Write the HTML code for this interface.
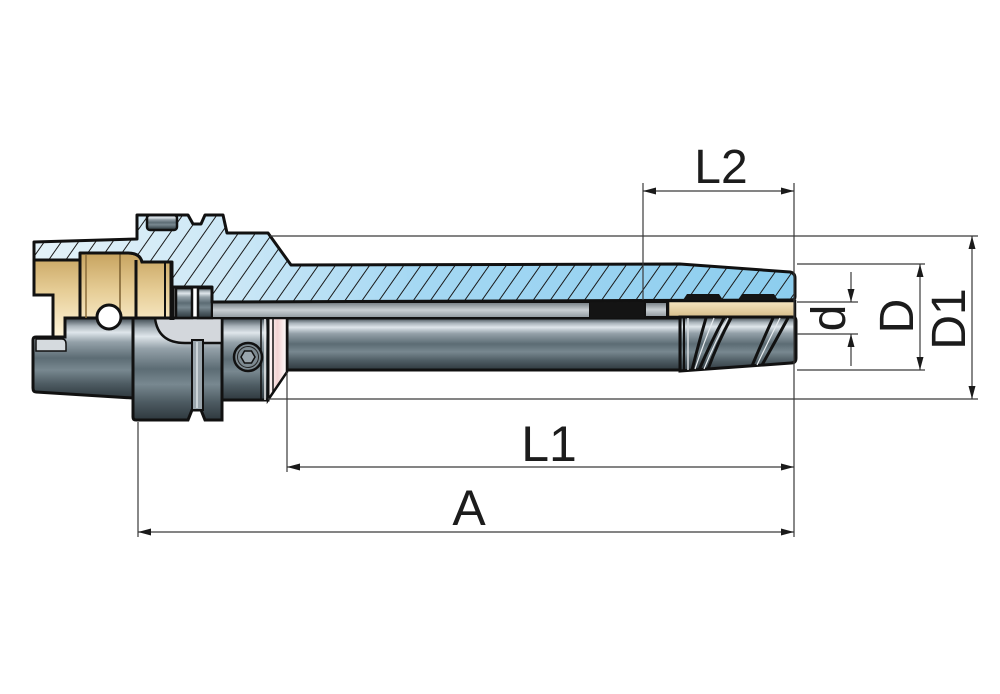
<!DOCTYPE html>
<html><head><meta charset="utf-8"><style>
html,body{margin:0;padding:0;background:#fff;}
svg{display:block;}
text{font-family:"Liberation Sans",Arial,sans-serif;fill:#1c1c1c;}
</style></head><body>
<svg width="1000" height="694" viewBox="0 0 1000 694" xmlns="http://www.w3.org/2000/svg">
<defs>
 <linearGradient id="cyl" x1="0" y1="0" x2="0" y2="1">
  <stop offset="0" stop-color="#39444b"/>
  <stop offset="0.1" stop-color="#a9b3ba"/>
  <stop offset="0.18" stop-color="#dfe6eb"/>
  <stop offset="0.3" stop-color="#94a1a9"/>
  <stop offset="0.5" stop-color="#5c6c74"/>
  <stop offset="0.65" stop-color="#788890"/>
  <stop offset="0.82" stop-color="#4e5c63"/>
  <stop offset="1" stop-color="#2e383e"/>
 </linearGradient>
 <linearGradient id="strip" x1="0" y1="0" x2="0" y2="1">
  <stop offset="0" stop-color="#6f787e"/>
  <stop offset="0.5" stop-color="#c9cfd3"/>
  <stop offset="1" stop-color="#8e979d"/>
 </linearGradient>
 <linearGradient id="blue" gradientUnits="userSpaceOnUse" x1="34" y1="0" x2="795" y2="0">
  <stop offset="0" stop-color="#e4f2f9"/>
  <stop offset="0.25" stop-color="#cde8f6"/>
  <stop offset="0.5" stop-color="#a5d8f3"/>
  <stop offset="1" stop-color="#8ccdee"/>
 </linearGradient>
 <linearGradient id="beige" x1="0" y1="0" x2="0" y2="1">
  <stop offset="0" stop-color="#c7a35f"/>
  <stop offset="0.45" stop-color="#e6cd96"/>
  <stop offset="1" stop-color="#fff5da"/>
 </linearGradient>
 <linearGradient id="beige2" x1="0" y1="0" x2="0" y2="1">
  <stop offset="0" stop-color="#f7e7c2"/>
  <stop offset="1" stop-color="#d6bd8a"/>
 </linearGradient>
 <linearGradient id="pink" x1="0" y1="0" x2="1" y2="0">
  <stop offset="0" stop-color="#ffffff"/>
  <stop offset="0.5" stop-color="#f2d2d2"/>
  <stop offset="1" stop-color="#ffffff"/>
 </linearGradient>
 <pattern id="hatch" width="14" height="14" patternUnits="userSpaceOnUse" patternTransform="rotate(35)">
  <line x1="7" y1="0" x2="7" y2="14" stroke="#1a1a1a" stroke-width="1"/>
 </pattern>
</defs>

<!-- shaft -->
<rect x="287" y="318" width="394" height="52" fill="url(#cyl)" stroke="#111" stroke-width="3"/>
<!-- bevel -->
<polygon points="268,318 287,318 287,372 268,400" fill="url(#pink)" stroke="#111" stroke-width="2.5"/>
<line x1="273" y1="318" x2="273" y2="393" stroke="#111" stroke-width="1.5"/>
<!-- screw block -->
<rect x="222" y="318" width="46" height="82" fill="url(#cyl)" stroke="#111" stroke-width="3"/>
<line x1="261" y1="318" x2="261" y2="400" stroke="#111" stroke-width="1.5"/>
<line x1="265" y1="318" x2="265" y2="400" stroke="#eee" stroke-width="1.5"/>
<!-- flange -->
<path d="M133,318 L222,318 L222,420 L205,420 L201,410 L192,410 L188,420 L136,420 Q133,420 133,417 Z" fill="url(#cyl)" stroke="#111" stroke-width="3"/>
<path d="M155,318 L222,318 L222,343 L185,343 Q158,343 155,318 Z" fill="#d3d7dc" stroke="#111" stroke-width="2.5"/>
<rect x="192" y="340" width="11" height="70" fill="#9aa5ac" stroke="#111" stroke-width="2"/>
<line x1="197" y1="342" x2="197" y2="408" stroke="#dde3e7" stroke-width="1.5"/>
<!-- left shank -->
<path d="M65,318 L133,318 L133,398 L36,392 Q33,392 33,388 L33,340 Q33,337 36,337 L63,337 Z" fill="url(#cyl)" stroke="#111" stroke-width="3"/>
<path d="M36,339 L62,339 Q66,339 66,344 L66,351 L36,351 Z" fill="#d5dade" stroke="#111" stroke-width="1.5"/>
<!-- beige -->
<path d="M34,260 L80,260 L80,253 L128,253 Q140,253 142,262 L172,262 L172,318 L65,318 L65,337 L53,337 L53,295 L34,295 Z" fill="url(#beige)" stroke="#111" stroke-width="3"/>
<line x1="80" y1="253" x2="80" y2="318" stroke="#111" stroke-width="3"/>
<line x1="86" y1="255" x2="86" y2="318" stroke="#8a6d3a" stroke-width="1.5"/>
<line x1="120" y1="254" x2="120" y2="318" stroke="#7a5f30" stroke-width="1.5"/>
<line x1="136" y1="260" x2="136" y2="318" stroke="#111" stroke-width="3"/>
<line x1="165" y1="262" x2="165" y2="318" stroke="#111" stroke-width="2"/>
<line x1="172" y1="262" x2="172" y2="320" stroke="#111" stroke-width="5"/>
<!-- rings -->
<rect x="176" y="288" width="16" height="30" fill="url(#cyl)" stroke="#111" stroke-width="2.5"/>
<rect x="198" y="288" width="14" height="30" fill="url(#cyl)" stroke="#111" stroke-width="2.5"/>
<!-- strip above shaft -->
<rect x="212" y="302" width="378" height="16" fill="url(#strip)" stroke="#111" stroke-width="2"/>
<rect x="590" y="300" width="54" height="18" fill="#141414"/>
<line x1="594" y1="300" x2="642" y2="300" stroke="#555" stroke-width="1.5" stroke-dasharray="2,2"/>
<rect x="645" y="302" width="22" height="15" fill="url(#strip)" stroke="#111" stroke-width="2"/>
<rect x="668" y="301" width="127" height="16" fill="url(#beige2)" stroke="#111" stroke-width="2.5"/>
<!-- blue shell -->
<path id="shell" d="M34,242 L137,239 L137,215 L188,215 L193,224 L201,224 L205,215 L223,215 L227,233 L268,233 L291,265 L680,264 L790,272 Q795,273 795,278 L795,297 Q795,300 791,300 L212,302 L212,287 L172,287 L172,262 L142,262 Q140,253 128,253 L80,253 L80,260 L34,260 Z" fill="url(#blue)"/>
<path d="M34,242 L137,239 L137,215 L188,215 L193,224 L201,224 L205,215 L223,215 L227,233 L268,233 L291,265 L680,264 L790,272 Q795,273 795,278 L795,297 Q795,300 791,300 L212,302 L212,287 L172,287 L172,262 L142,262 Q140,253 128,253 L80,253 L80,260 L34,260 Z" fill="url(#hatch)" stroke="#111" stroke-width="3" stroke-linejoin="round"/>
<rect x="147" y="215" width="30" height="15" rx="3" fill="url(#cyl)" stroke="#111" stroke-width="2.5"/>
<path d="M683,300 L687,294 L719,294 L723,300 Z" fill="#141414"/>
<path d="M738,300 L742,294 L774,294 L778,300 Z" fill="#141414"/>
<!-- cutter -->
<path d="M680,317 L792,317 Q796,317 796,321 L796,358 Q796,363 791,363 L680,371 Z" fill="url(#cyl)" stroke="#111" stroke-width="3"/>
<line x1="684" y1="318" x2="684" y2="370" stroke="#111" stroke-width="2"/>
<line x1="688" y1="318" x2="688" y2="370" stroke="#d8dde0" stroke-width="1.5"/>
<g fill="none" stroke="#111" stroke-width="3">
 <path d="M692,370 Q699,342 706,318"/>
 <path d="M699,370 Q711,342 724,318"/>
 <path d="M708,369 Q718,342 731,318"/>
 <path d="M752,366 Q762,342 773,318"/>
 <path d="M762,365 Q775,342 788,318"/>
</g>
<g fill="none" stroke="#e8ecef" stroke-width="1.2">
 <path d="M695,369 Q704,342 714,318"/>
 <path d="M704,369 Q715,342 728,318"/>
 <path d="M757,365 Q768,342 780,318"/>
</g>
<!-- hex screw -->
<circle cx="248" cy="357" r="14" fill="#7d8a91" stroke="#111" stroke-width="2.5"/>
<circle cx="248" cy="357" r="10.5" fill="none" stroke="#222" stroke-width="1"/>
<polygon points="255,357 251.5,363 244.5,363 241,357 244.5,351 251.5,351" fill="#9aa6ad" stroke="#111" stroke-width="1.5"/>
<!-- white circle -->
<circle cx="109" cy="317" r="12" fill="#fff" stroke="#111" stroke-width="3"/>

<!-- dimension & extension lines -->
<g stroke="#3a3a3a" stroke-width="1.2" fill="none">
 <line x1="270" y1="236" x2="978" y2="236"/>
 <line x1="268" y1="399" x2="978" y2="399"/>
 <line x1="797" y1="264" x2="925" y2="264"/>
 <line x1="797" y1="370" x2="925" y2="370"/>
 <line x1="797" y1="302" x2="858" y2="302"/>
 <line x1="797" y1="334" x2="858" y2="334"/>
 <line x1="794" y1="183" x2="794" y2="537"/>
 <line x1="643" y1="183" x2="643" y2="300"/>
 <line x1="287" y1="372" x2="287" y2="472"/>
 <line x1="138" y1="422" x2="138" y2="537"/>
 <line x1="643" y1="191" x2="794" y2="191"/>
 <line x1="287" y1="467" x2="794" y2="467"/>
 <line x1="138" y1="532" x2="794" y2="532"/>
 <line x1="972" y1="236" x2="972" y2="399"/>
 <line x1="920" y1="264" x2="920" y2="370"/>
 <line x1="851" y1="272" x2="851" y2="302"/>
 <line x1="851" y1="334" x2="851" y2="366"/>
</g>
<g fill="#1a1a1a">
 <polygon points="643,191 656,187.5 656,194.5"/>
 <polygon points="794,191 781,187.5 781,194.5"/>
 <polygon points="287,467 300,463.5 300,470.5"/>
 <polygon points="794,467 781,463.5 781,470.5"/>
 <polygon points="138,532 151,528.5 151,535.5"/>
 <polygon points="794,532 781,528.5 781,535.5"/>
 <polygon points="972,236 968.5,249 975.5,249"/>
 <polygon points="972,399 968.5,386 975.5,386"/>
 <polygon points="920,264 916.5,277 923.5,277"/>
 <polygon points="920,370 916.5,357 923.5,357"/>
 <polygon points="851,302 847.5,289 854.5,289"/>
 <polygon points="851,334 847.5,347 854.5,347"/>
</g>

<!-- labels -->
<text x="721" y="183" font-size="48" text-anchor="middle">L2</text>
<text x="549" y="461" font-size="50" text-anchor="middle">L1</text>
<text x="469" y="525" font-size="50" text-anchor="middle">A</text>
<text transform="translate(845,318) rotate(-90)" font-size="48" text-anchor="middle">d</text>
<text transform="translate(913,316) rotate(-90)" font-size="48" text-anchor="middle">D</text>
<text transform="translate(965,319) rotate(-90)" font-size="48" text-anchor="middle">D1</text>
</svg>
</body></html>
